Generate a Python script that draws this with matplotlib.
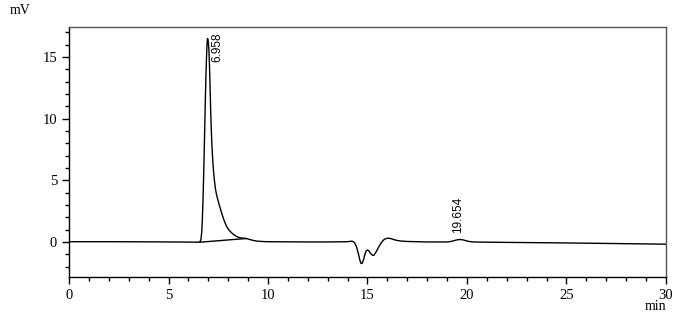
import matplotlib.pyplot as plt
from matplotlib.ticker import MultipleLocator

# chromatogram signal (min, mV)
time = [0, 2, 4, 5, 6, 6.4, 6.5, 6.58, 6.63, 6.67, 6.7, 6.73, 6.76, 6.79,
        6.82, 6.85, 6.88, 6.91, 6.935, 6.958, 6.98, 7.0, 7.03, 7.06, 7.09,
        7.12, 7.15, 7.18, 7.22, 7.26, 7.3, 7.35, 7.4, 7.45, 7.5, 7.55, 7.6,
        7.65, 7.7, 7.75, 7.8, 7.85, 7.9, 7.95, 8.0, 8.1, 8.2, 8.3, 8.4, 8.5,
        8.6, 8.7, 8.8, 8.9, 9.0, 9.15, 9.3, 9.45, 9.6, 9.8, 10, 11, 12, 13,
        14.0, 14.15, 14.25, 14.35, 14.45, 14.55, 14.62, 14.68, 14.74, 14.8,
        14.87, 14.94, 15.0, 15.07, 15.15, 15.25, 15.32, 15.4, 15.5, 15.6,
        15.7, 15.8, 15.9, 16.0, 16.1, 16.2, 16.35, 16.5, 16.7, 17.0, 17.5,
        18, 19.0, 19.2, 19.35, 19.5, 19.65, 19.8, 19.95, 20.1, 20.3, 21, 23,
        25, 27, 30]
signal = [0.02, 0.02, 0.01, 0.0, -0.01, -0.02, -0.02, 0.0, 0.2, 0.8, 1.8,
          3.2, 5.0, 7.0, 9.2, 11.4, 13.4, 15.0, 16.0, 16.5, 16.45, 16.2, 15.6,
          14.3, 12.5, 10.6, 9.1, 7.9, 6.7, 5.8, 5.1, 4.4, 3.95, 3.6, 3.3, 3.0,
          2.75, 2.45, 2.2, 1.95, 1.72, 1.52, 1.33, 1.18, 1.05, 0.86, 0.7,
          0.57, 0.46, 0.39, 0.34, 0.31, 0.3, 0.28, 0.24, 0.17, 0.11, 0.07,
          0.05, 0.03, 0.02, 0.01, 0.0, 0.0, 0.02, 0.06, 0.05, -0.05, -0.4,
          -1.0, -1.5, -1.75, -1.72, -1.45, -1.0, -0.72, -0.65, -0.72, -0.92,
          -1.08, -1.08, -0.9, -0.6, -0.3, -0.05, 0.15, 0.26, 0.3, 0.3, 0.26,
          0.18, 0.12, 0.07, 0.04, 0.02, 0.0, 0.0, 0.04, 0.11, 0.17, 0.2, 0.17,
          0.1, 0.04, 0.0, -0.02, -0.05, -0.08, -0.12, -0.18]

# integration baseline under the main peak
base_t = [6.58, 8.9]
base_v = [-0.02, 0.28]

peak_times = ["6.958", "19.654"]

fig = plt.figure(figsize=(6.86, 3.18), dpi=100)
ax = fig.add_axes([0.1006, 0.129, 0.8702, 0.786])

ax.plot(time, signal, color='black', lw=1.0)
ax.plot(base_t, base_v, color='black', lw=1.0)

ax.set_xlim(0, 30)
ax.set_ylim(-2.84, 17.43)
ax.xaxis.set_major_locator(MultipleLocator(5))
ax.xaxis.set_minor_locator(MultipleLocator(1))
ax.yaxis.set_major_locator(MultipleLocator(5))
ax.yaxis.set_minor_locator(MultipleLocator(1))
ax.tick_params(which='major', length=5, width=1, direction='out', labelsize=10.5)
ax.tick_params(which='minor', length=3, width=1, direction='out')
for lab in ax.get_xticklabels() + ax.get_yticklabels():
    lab.set_family('Liberation Serif')
for sp in ax.spines.values():
    sp.set_linewidth(1.0)
ax.spines['top'].set_color('#555555')
ax.spines['right'].set_color('#555555')

ax.text(7.17, 17.0, peak_times[0], rotation=90, va='top', ha='left',
        fontsize=8.5, family='Liberation Sans')
ax.text(19.55, 0.75, peak_times[1], rotation=90, va='bottom', ha='center',
        fontsize=8.5, family='Liberation Sans')

fig.text(10 / 686, 1 - 10 / 318, 'mV', fontsize=10, family='Liberation Serif',
         va='center', ha='left')
fig.text(666 / 686, 1 - 307 / 318, 'min', fontsize=10, family='Liberation Serif',
         va='center', ha='right')

plt.savefig("out.png")
